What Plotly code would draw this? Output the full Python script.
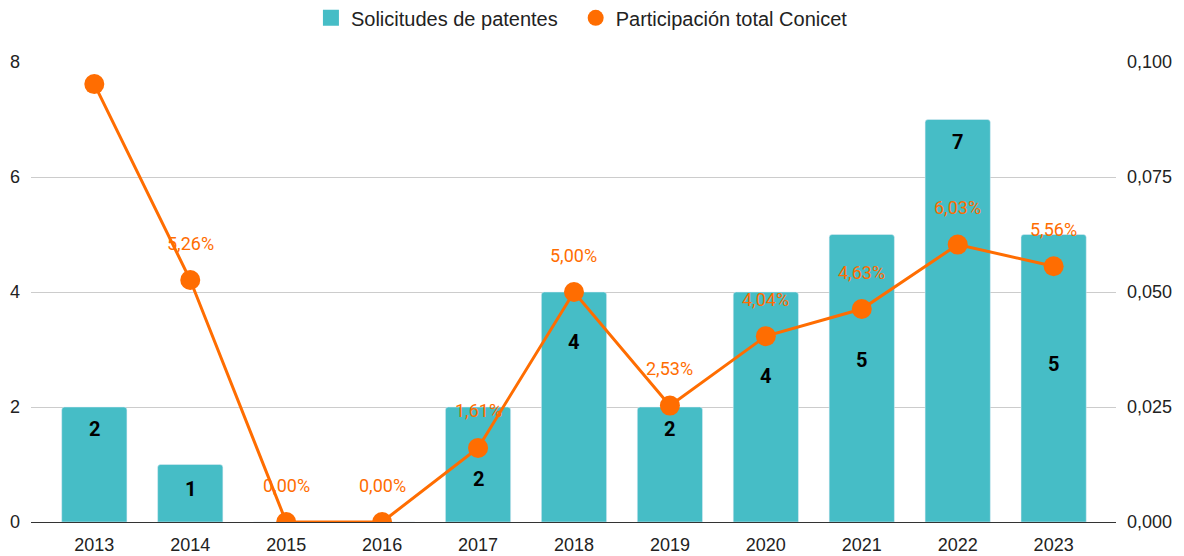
import plotly.graph_objects as go

years = ["2013", "2014", "2015", "2016", "2017", "2018", "2019", "2020", "2021", "2022", "2023"]
solicitudes = [2, 1, 0, 0, 2, 4, 2, 4, 5, 7, 5]
participacion = [0.0952, 0.0526, 0.0, 0.0, 0.0161, 0.0500, 0.0253, 0.0404, 0.0463, 0.0603, 0.0556]
show_line_label = [False, True, True, True, True, True, True, True, True, True, True]
# style: vertical pixel offset of the bar value labels (collision avoidance in original)
bar_label_shift = [-22, -24, 0, 0, -72, -50, -22, -84, -125, -22, -129]

TEAL = "#46BDC6"
ORANGE = "#FF6D01"

fig = go.Figure()
fig.add_trace(go.Bar(
    x=years, y=solicitudes, name="Solicitudes de patentes",
    marker=dict(color=TEAL, cornerradius=3), width=0.68, yaxis="y", showlegend=False,
))
fig.add_trace(go.Scatter(
    x=years, y=participacion, yaxis="y2", mode="lines+markers",
    line=dict(color=ORANGE, width=3), marker=dict(color=ORANGE, size=20),
    showlegend=False, name="Participación total Conicet",
))
# legend entries
fig.add_trace(go.Scatter(
    x=[None], y=[None], mode="markers", name="Solicitudes de patentes",
    marker=dict(color=TEAL, size=20, symbol="square"), yaxis="y", legend="legend",
))
fig.add_trace(go.Scatter(
    x=[None], y=[None], mode="markers", name="Participación total Conicet",
    marker=dict(color=ORANGE, size=20), yaxis="y2", legend="legend2",
))

for i, (yr, v, sh) in enumerate(zip(years, solicitudes, bar_label_shift)):
    if v > 0:
        fig.add_annotation(x=i, y=v, xref="x", yref="y", text=f"<b>{v}</b>", showarrow=False,
                           yshift=sh, font=dict(family="Roboto", size=20, color="#000000"))

for i, (yr, v, s) in enumerate(zip(years, participacion, show_line_label)):
    if s:
        txt = f"{v*100:.2f}%".replace(".", ",")
        fig.add_annotation(x=i, y=v, xref="x", yref="y2", text=txt, showarrow=False, yshift=37,
                           font=dict(family="Roboto", size=18, color=ORANGE))

leg_common = dict(orientation="h", xanchor="left", y=1.096, yanchor="middle",
                  font=dict(size=20), itemwidth=30, bgcolor="rgba(0,0,0,0)")
fig.update_layout(
    width=1176, height=548,
    margin=dict(l=23, r=68, t=54, b=34, autoexpand=False),
    plot_bgcolor="white", paper_bgcolor="white",
    separators=",.",
    font=dict(family="Liberation Sans, Arial", size=18, color="#222222"),
    legend=dict(x=0.258, **leg_common),
    legend2=dict(x=0.502, **leg_common),
    bargap=0.32,
    xaxis=dict(type="category", range=[-0.66, 10.65], showgrid=False, showline=True,
               linecolor="#333333", linewidth=1, ticks="", tickfont=dict(size=18),
               automargin=False, ticklabelstandoff=6),
    yaxis=dict(range=[0, 8], tickvals=[0, 2, 4, 6, 8], showgrid=True, gridcolor="#CCCCCC",
               gridwidth=1, zeroline=False, ticks="", tickfont=dict(size=18), automargin=False,
               ticklabelstandoff=10),
    yaxis2=dict(range=[0, 0.1], tickvals=[0, 0.025, 0.05, 0.075, 0.1], tickformat=".3f",
                overlaying="y", side="right", showgrid=False, zeroline=False,
                ticks="", tickfont=dict(size=18), automargin=False, ticklabelstandoff=10),
)
fig.write_html("out.html")
